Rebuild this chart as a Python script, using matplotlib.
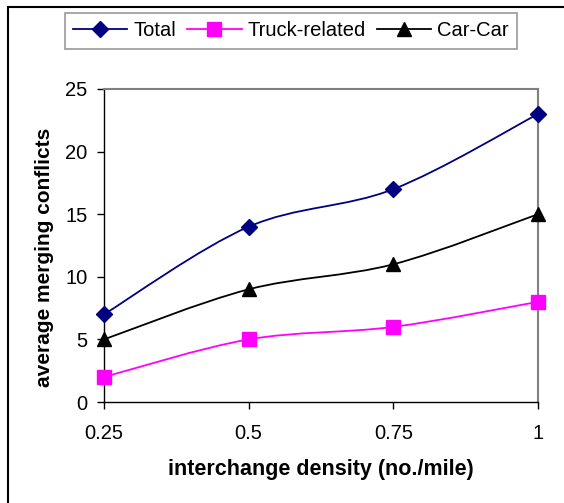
import matplotlib
matplotlib.use("Agg")
import matplotlib.pyplot as plt
from matplotlib.path import Path
from matplotlib.patches import PathPatch
from matplotlib.lines import Line2D
import numpy as np

plt.rcParams['font.family'] = ['Liberation Sans', 'DejaVu Sans']

density = [0.25, 0.5, 0.75, 1.0]
total = [7, 14, 17, 23]
truck_related = [2, 5, 6, 8]
car_car = [5, 9, 11, 15]
series_names = ["Total", "Truck-related", "Car-Car"]
xtick_labels = ["0.25", "0.5", "0.75", "1"]
yticks = [0, 5, 10, 15, 20, 25]

fig = plt.figure(figsize=(5.64, 5.03), dpi=100)
ax = fig.add_axes([104/564, 1-402/503, (538-104)/564, (402-89)/503])

def smooth_path(xs, ys):
    pts = np.column_stack([xs, ys]).astype(float)
    n = len(pts)
    verts = [pts[0]]
    codes = [Path.MOVETO]
    for i in range(n-1):
        p0 = pts[i-1] if i > 0 else pts[i]
        p1 = pts[i]
        p2 = pts[i+1]
        p3 = pts[i+2] if i+2 < n else pts[i+1]
        c1 = p1 + (p2 - p0) / 6.0
        c2 = p2 - (p3 - p1) / 6.0
        verts += [c1, c2, p2]
        codes += [Path.CURVE4]*3
    return Path(verts, codes)

styles = [
    (total, '#000080', 'D', 8),
    (truck_related, '#FF00FF', 's', 9.5),
    (car_car, '#000000', '^', 10),
]
handles = []
for (vals, col, mk, ms), name in zip(styles, series_names):
    ax.add_patch(PathPatch(smooth_path(density, vals), facecolor='none',
                           edgecolor=col, lw=1.3, zorder=3, clip_on=False))
    ax.plot(density, vals, linestyle='none', marker=mk, color=col, ms=ms,
            markeredgecolor=col, zorder=4, clip_on=False)
    handles.append(Line2D([], [], color=col, lw=1.3, marker=mk, ms=ms,
                          markeredgecolor=col))

ax.set_xlim(0.25, 1.0)
ax.set_ylim(0, 25)
ax.set_xticks(density)
ax.set_xticklabels(xtick_labels)
ax.set_yticks(yticks)
ax.tick_params(axis='both', labelsize=14.5, length=5, width=1, direction='out', colors='black')
ax.tick_params(axis='y', pad=7)
ax.tick_params(axis='x', pad=11)
for s in ['left', 'bottom']:
    ax.spines[s].set_color('black')
    ax.spines[s].set_linewidth(1)
for s in ['top', 'right']:
    ax.spines[s].set_color('#808080')
    ax.spines[s].set_linewidth(1.5)

fig.text(321/564, 1-469/503, "interchange density (no./mile)", fontsize=15.5,
         fontweight='bold', ha='center', va='center')
fig.text(45/564, 1-257/503, "average merging conflicts", fontsize=15,
         fontweight='bold', ha='center', va='center', rotation=90)

leg = fig.legend(handles, series_names, loc='center', bbox_to_anchor=(291/564, 1-31/503),
                 ncol=3, fontsize=14.5, handlelength=2.7, handletextpad=0.3,
                 columnspacing=0.55, frameon=True, fancybox=False, borderpad=0.4,
                 borderaxespad=0)
leg.get_frame().set_edgecolor('#808080')
leg.get_frame().set_linewidth(1.2)

# figure border (left and top visible)
fig.add_artist(Line2D([7.5/564, 7.5/564], [0, 1-6.5/503], transform=fig.transFigure,
                      color='black', lw=1.5))
fig.add_artist(Line2D([7.5/564, 1], [1-6.5/503, 1-6.5/503], transform=fig.transFigure,
                      color='black', lw=1.5))

fig.savefig("out.png", dpi=100)
